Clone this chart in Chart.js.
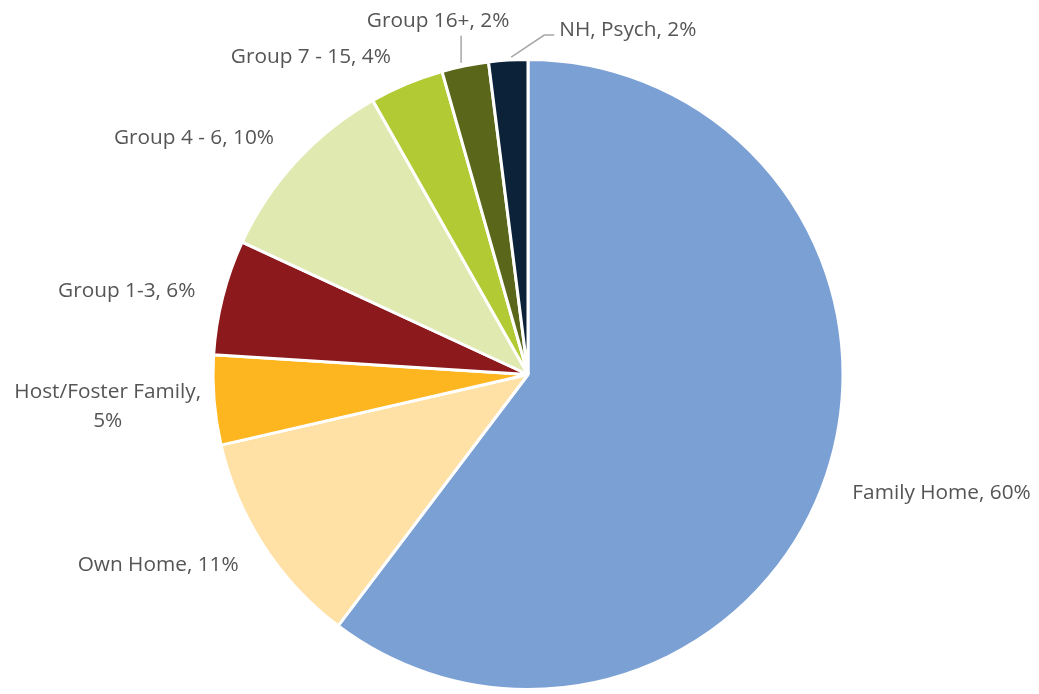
<!DOCTYPE html>
<html>
<head>
<meta charset="utf-8">
<script src="https://cdn.jsdelivr.net/npm/chart.js@4"></script>
<style>
  html, body { margin: 0; padding: 0; background: #fff; }
  #wrap { width: 1039px; height: 694px; position: relative; }
</style>
</head>
<body>
<div id="wrap"><canvas id="myChart"></canvas></div>
<script>
// data (share of people, %)
const categories = ["Family Home", "Own Home", "Host/Foster Family", "Group 1-3", "Group 4 - 6", "Group 7 - 15", "Group 16+", "NH, Psych"];
const shares = [60.3, 11.1, 4.6, 5.9, 9.9, 3.8, 2.4, 2.0];
const sliceColors = ["#7ba0d4", "#ffe0a5", "#fdb620", "#8c1a1d", "#e0eab0", "#b2ca33", "#5a6619", "#0b2239"];

// label placement tweaks (pixels, relative to default spot outside the arc)
const labelNudge = [[2, 10], [-4, 6], [12, 4], [-3, 0], [-4, -6], [-6, -4], [0, 0], [0, 0]];

const labelFont = "20.8px 'Open Sans'";
const labelColor = "#555555";

// draws "Name, NN%" outside each slice, leader lines for the thin ones
const outsideLabels = {
  id: "outsideLabels",
  afterDatasetsDraw(chart) {
    const ctx = chart.ctx;
    const arcs = chart.getDatasetMeta(0).data;
    ctx.save();
    ctx.font = labelFont;
    ctx.fillStyle = labelColor;
    ctx.textBaseline = "middle";
    arcs.forEach((arc, i) => {
      const mid = (arc.startAngle + arc.endAngle) / 2;
      const r = arc.outerRadius;
      const cx = arc.x, cy = arc.y;
      const ex = cx + Math.cos(mid) * r;
      const ey = cy + Math.sin(mid) * r;
      const text = categories[i] + ", " + Math.round(shares[i]) + "%";

      if (i === 6) {
        // Group 16+ : straight line up
        ctx.strokeStyle = "#a6a6a6";
        ctx.lineWidth = 1.5;
        ctx.beginPath();
        ctx.moveTo(ex - 4, ey - 3);
        ctx.lineTo(ex - 4, ey - 30);
        ctx.stroke();
        ctx.textAlign = "center";
        ctx.fillText(text, ex - 27, ey - 45);
        return;
      }
      if (i === 7) {
        // NH, Psych : bent line to the right
        ctx.strokeStyle = "#a6a6a6";
        ctx.lineWidth = 1.5;
        ctx.beginPath();
        ctx.moveTo(ex + 3, ey - 3);
        ctx.lineTo(ex + 36, ey - 25);
        ctx.lineTo(ex + 46, ey - 25);
        ctx.stroke();
        ctx.textAlign = "left";
        ctx.fillText(text, ex + 51, ey - 30);
        return;
      }

      const d = r + 25;
      let x = cx + Math.cos(mid) * d + labelNudge[i][0];
      let y = cy + Math.sin(mid) * d + labelNudge[i][1];
      const right = Math.cos(mid) >= 0;
      ctx.textAlign = right ? "left" : "right";
      if (i === 2) {
        // wraps onto two lines, centred
        const l1 = categories[i] + ",";
        const l2 = Math.round(shares[i]) + "%";
        const w = ctx.measureText(l1).width;
        ctx.textAlign = "center";
        ctx.fillText(l1, x - w / 2, y - 14);
        ctx.fillText(l2, x - w / 2, y + 15);
        return;
      }
      ctx.fillText(text, x, y);
    });
    ctx.restore();
  }
};

new Chart(document.getElementById("myChart"), {
  type: "pie",
  data: {
    labels: categories,
    datasets: [{
      data: shares,
      backgroundColor: sliceColors,
      borderColor: "#ffffff",
      borderWidth: 3
    }]
  },
  options: {
    responsive: true,
    maintainAspectRatio: false,
    animation: false,
    layout: {
      padding: { top: 58, bottom: 3, left: 113, right: 96 }
    },
    plugins: {
      legend: { display: false },
      tooltip: { enabled: false },
      title: { display: false }
    }
  },
  plugins: [outsideLabels]
});
</script>
</body>
</html>
